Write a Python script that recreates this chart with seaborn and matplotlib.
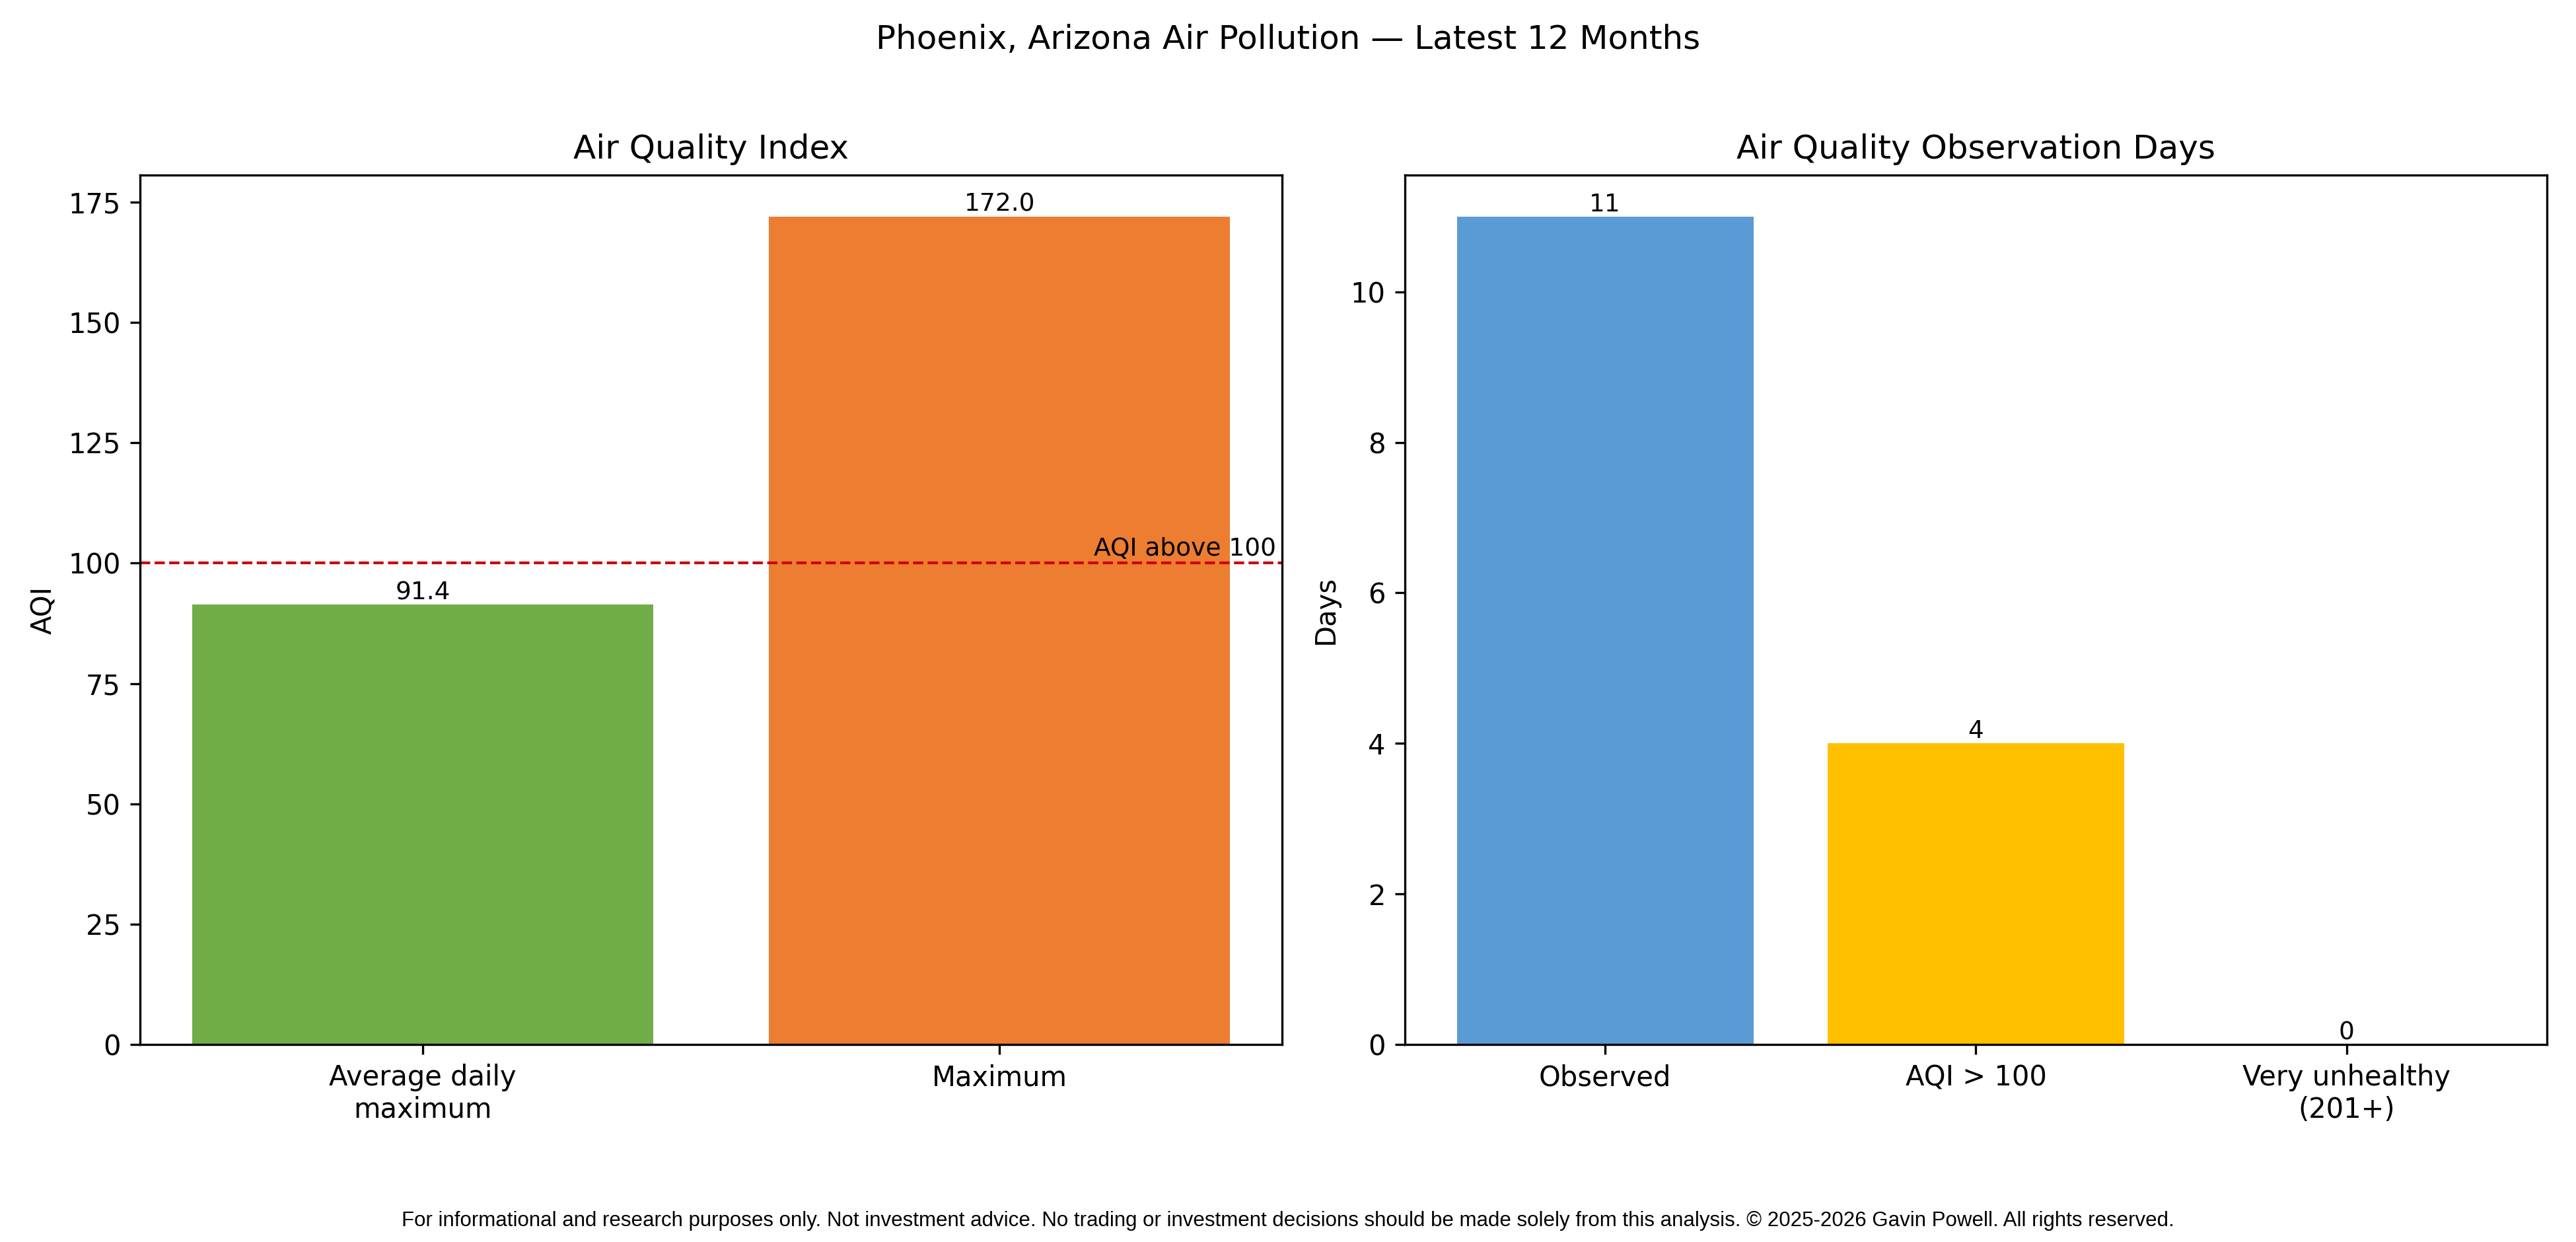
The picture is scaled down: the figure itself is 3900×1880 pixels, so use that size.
import matplotlib
matplotlib.use('Agg')
import matplotlib.pyplot as plt
import matplotlib.transforms as mtransforms
import pandas as pd
import seaborn as sns

# chart values
aqi_labels = ['Average daily\nmaximum', 'Maximum']
aqi_values = [91.4, 172.0]
aqi_colors = ['#70AD47', '#ED7D31']
aqi_threshold = 100

day_labels = ['Observed', 'AQI > 100', 'Very unhealthy\n(201+)']
day_values = [11, 4, 0]
day_colors = ['#5B9BD5', '#FFC000', '#C00000']

footer = ("For informational and research purposes only. Not investment advice. "
          "No trading or investment decisions should be made solely from this analysis. "
          "\u00a9 2025-2026 Gavin Powell. All rights reserved.")

aqi_df = pd.DataFrame({'label': aqi_labels, 'value': aqi_values})
day_df = pd.DataFrame({'label': day_labels, 'value': day_values})

fig = plt.figure(figsize=(13, 6.2667), dpi=300)
ax1 = fig.add_axes([0.0544, 0.159, 0.4433, 0.700])
ax2 = fig.add_axes([0.5454, 0.159, 0.4433, 0.700])

# ---- left panel: AQI ----
sns.barplot(data=aqi_df, x='label', y='value', hue='label', palette=aqi_colors,
            legend=False, width=0.8, saturation=1, ax=ax1)
for c in ax1.containers:
    ax1.bar_label(c, fmt='%.1f', fontsize=9)
ax1.axhline(aqi_threshold, color='#CC0000', linestyle='--', linewidth=1)
trans = mtransforms.blended_transform_factory(ax1.transAxes, ax1.transData)
ax1.text(0.995, aqi_threshold + 0.5, 'AQI above 100', transform=trans,
         ha='right', va='bottom', fontsize=9)
ax1.set_xlim(-0.49, 1.49)
ax1.set_ylim(0, max(aqi_values) * 1.05)
ax1.set_title('Air Quality Index', fontsize=12)
ax1.set_xlabel('')
ax1.set_ylabel('AQI')

# ---- right panel: days ----
sns.barplot(data=day_df, x='label', y='value', hue='label', palette=day_colors,
            legend=False, width=0.8, saturation=1, ax=ax2)
for c in ax2.containers:
    ax2.bar_label(c, fmt='%d', fontsize=9)
ax2.set_xlim(-0.54, 2.54)
ax2.set_ylim(0, max(day_values) * 1.05)
ax2.set_title('Air Quality Observation Days', fontsize=12)
ax2.set_xlabel('')
ax2.set_ylabel('Days')

fig.suptitle('Phoenix, Arizona Air Pollution \u2014 Latest 12 Months', fontsize=12, y=0.981)
fig.text(0.5, 0.017, footer, ha='center', va='center', fontsize=7.5,
         family=['Liberation Sans', 'DejaVu Sans'])

fig.savefig('out.png', dpi=300)
